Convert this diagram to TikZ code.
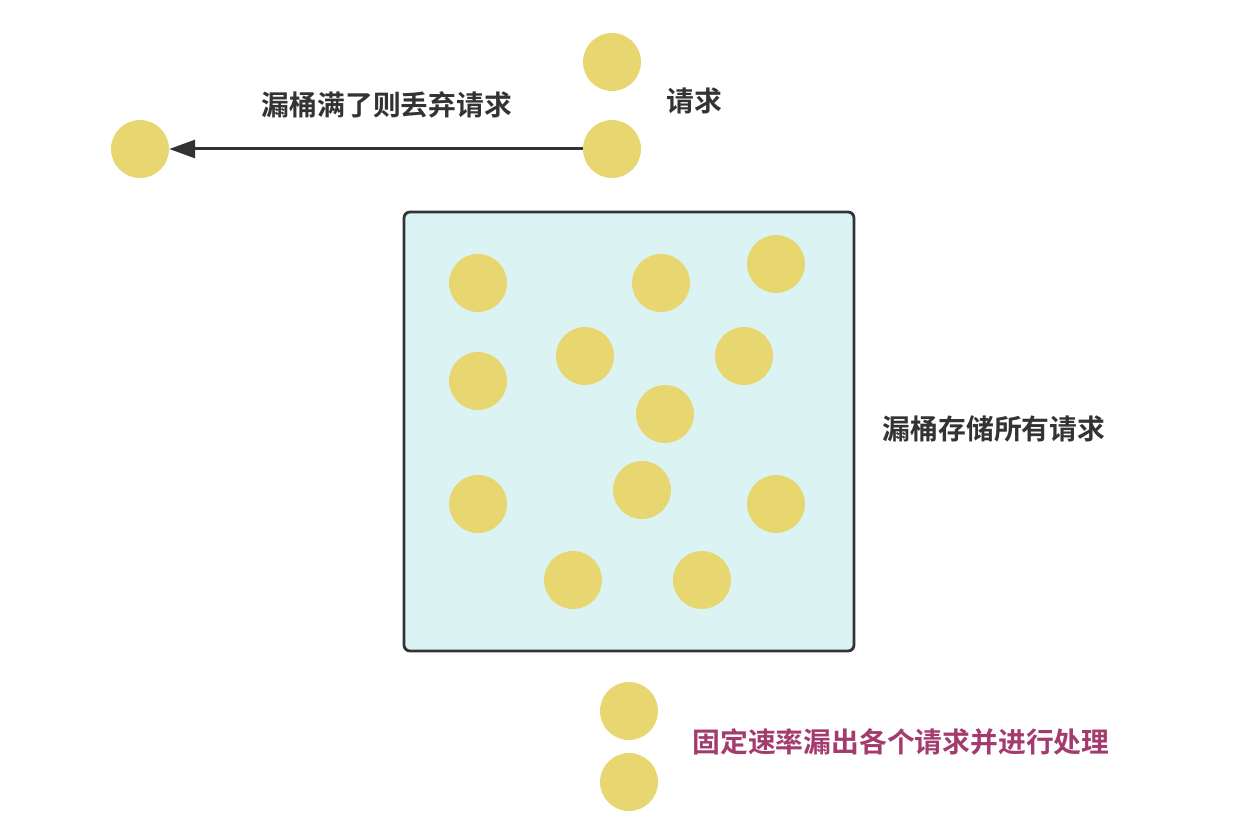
\documentclass[tikz,border=0pt]{standalone}
\usepackage{fontspec}
\newfontfamily\cjk{Noto Sans CJK SC}[BoldFont={Noto Sans CJK SC Bold}]
\usetikzlibrary{arrows.meta}
\definecolor{ball}{HTML}{E8D670}
\definecolor{bucketfill}{HTML}{DBF4F3}
\definecolor{bucketline}{HTML}{2F3437}
\definecolor{txt}{HTML}{333333}
\definecolor{pur}{HTML}{A33B6E}
\begin{document}
\begin{tikzpicture}[x=1pt,y=-1pt,
  req/.style={circle,fill=ball,minimum size=58pt,inner sep=0pt},
  lbl/.style={font=\cjk\bfseries\fontsize{27.8}{30}\selectfont,text=txt,inner sep=0pt},
  bucket/.style={draw=bucketline,line width=2.8pt,fill=bucketfill,rounded corners=6pt}]
\useasboundingbox (0,0) rectangle (1237,837);
\node[bucket,minimum width=450pt,minimum height=439pt,inner sep=0pt] (box) at (629,431.5) {};
\node[req] (t1) at (612,62) {};
\node[req] (t2) at (612,149) {};
\node[req] (drop) at (140,149) {};
\draw[txt,line width=3pt,-{Triangle[length=26pt,width=18pt]}] (t2.west) -- (drop.east);
\node[lbl] (ldrop) at (387,105) {漏桶满了则丢弃请求};
\node[lbl] (lreq) at (694,101) {请求};
\node[lbl] (lstore) at (994,429) {漏桶存储所有请求};
\node[lbl,text=pur] (lout) at (901,742) {固定速率漏出各个请求并进行处理};
\node[req] (b1) at (478,283) {};
\node[req] (b2) at (661,283) {};
\node[req] (b3) at (776,264) {};
\node[req] (b4) at (585,356) {};
\node[req] (b5) at (744,356) {};
\node[req] (b6) at (478,381) {};
\node[req] (b7) at (665,414) {};
\node[req] (b8) at (478,504) {};
\node[req] (b9) at (642,490) {};
\node[req] (b10) at (776,504) {};
\node[req] (b11) at (573,580) {};
\node[req] (b12) at (702,580) {};
\node[req] (o1) at (629,711) {};
\node[req] (o2) at (629,782) {};
\end{tikzpicture}
\end{document}
